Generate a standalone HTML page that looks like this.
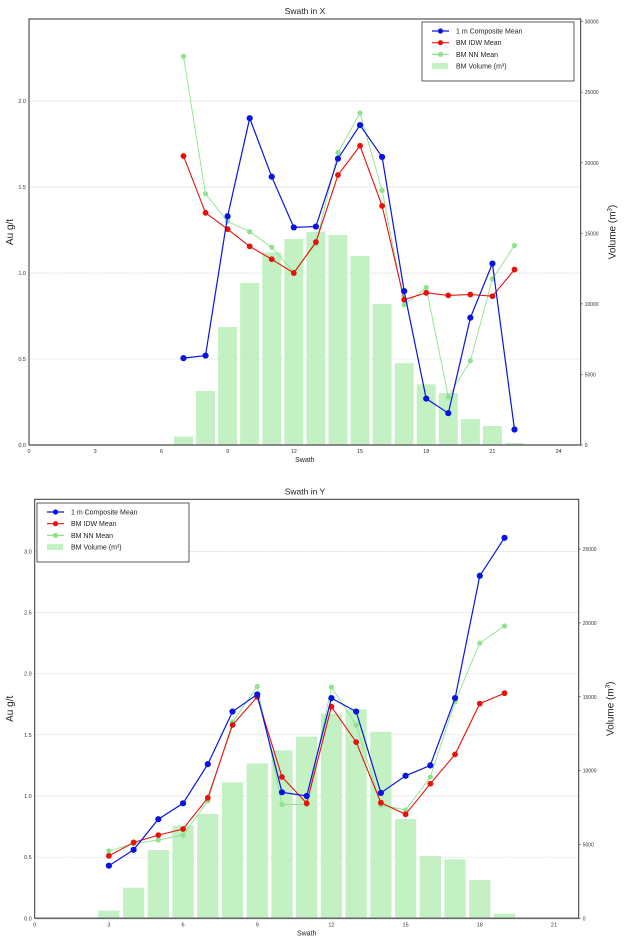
<!DOCTYPE html>
<html><head><meta charset="utf-8"><style>
html,body{margin:0;padding:0;background:#fff;}
svg{display:block;font-family:"Liberation Sans",sans-serif;}
</style></head><body>
<svg id="svg" width="626" height="942" viewBox="0 0 626 942"></svg>
<script>
// ---- Swath in X data ----
const xCats = [7,8,9,10,11,12,13,14,15,16,17,18,19,20,21,22];
const xVolume = [600,3830,8360,11480,13650,14600,15100,14880,13400,10000,5800,4300,3680,1840,1350,140];
const xComposite = [0.505,0.52,1.33,1.90,1.56,1.265,1.27,1.665,1.86,1.675,0.895,0.27,0.185,0.74,1.055,0.09];
const xIDW = [1.68,1.35,1.255,1.155,1.08,1.0,1.18,1.57,1.74,1.39,0.845,0.885,0.87,0.875,0.865,1.02];
const xNN = [2.26,1.46,1.30,1.24,1.15,1.005,1.17,1.70,1.93,1.48,0.815,0.915,0.28,0.49,0.965,1.16];
const xXTicks = [0,3,6,9,12,15,18,21,24];
const xLeftTicks = ["0.0","0.5","1.0","1.5","2.0"];
const xRightTicks = [0,5000,10000,15000,20000,25000,30000];
// ---- Swath in Y data ----
const yCats = [3,4,5,6,7,8,9,10,11,12,13,14,15,16,17,18,19];
const yVolume = [520,2070,4620,6270,7060,9200,10490,11370,12300,13850,14150,12630,6720,4220,3990,2590,310];
const yComposite = [0.43,0.56,0.81,0.94,1.26,1.69,1.83,1.03,1.0,1.80,1.69,1.025,1.165,1.25,1.80,2.80,3.11];
const yIDW = [0.51,0.62,0.68,0.73,0.985,1.58,1.81,1.155,0.94,1.73,1.44,0.945,0.85,1.10,1.34,1.755,1.84];
const yNN = [0.55,0.61,0.64,0.68,0.96,1.605,1.895,0.93,0.93,1.89,1.58,0.925,0.885,1.155,1.77,2.25,2.39];
const yXTicks = [0,3,6,9,12,15,18,21];
const yLeftTicks = ["0.0","0.5","1.0","1.5","2.0","2.5","3.0"];
const yRightTicks = [0,5000,10000,15000,20000,25000];

const NS="http://www.w3.org/2000/svg";
const svg=document.getElementById('svg');
function mk(tag,attrs,parent,text){const e=document.createElementNS(NS,tag);for(const k in attrs)e.setAttribute(k,attrs[k]);if(text!==undefined)e.textContent=text;(parent||svg).appendChild(e);return e;}

function chart(o){
  const g=mk('g',{});
  
  
  const sx=v=>o.L+(v-0)/(o.xmax)*(o.R-o.L);
  const sy=v=>o.B-v/o.ymax*(o.B-o.T);
  const sy2=v=>o.B-v/o.y2max*(o.B-o.T);
  // gridlines
  o.leftTicks.forEach(t=>{const v=parseFloat(t);
    if(v>0){const l=mk('line',{x1:o.L,x2:o.R,y1:sy(v),y2:sy(v),stroke:'#c8c8c8','stroke-width':0.6,'stroke-dasharray':'1.5 1'},g);
    
    }
  });
  // bars
  o.cats.forEach((c,i)=>{const w=(sx(1)-sx(0))*0.86;
    const r=mk('rect',{x:sx(c)-w/2,y:sy2(o.vol[i]),width:w,height:o.B-sy2(o.vol[i]),fill:'#c3f1c3'},g);
    
    });
  // series
  const series=[[o.nn,'#8de48d',0.9,2.6,'bm-nn-mean'],[o.idw,'#e8120c',1.1,2.9,'bm-idw-mean'],[o.comp,'#0a14e0',1.2,3.1,'composite-mean']];
  series.forEach(s=>{
    const pts=o.cats.map((c,i)=>sx(c).toFixed(1)+','+sy(s[0][i]).toFixed(1)).join(' ');
    const pl=mk('polyline',{points:pts,fill:'none',stroke:s[1],'stroke-width':s[2]},g);
    
    
    o.cats.forEach((c,i)=>{const p=mk('circle',{cx:sx(c),cy:sy(s[0][i]),r:s[3],fill:s[1]},g);
      
      });
  });
  // frame
  const f=mk('rect',{x:o.L,y:o.T,width:o.R-o.L,height:o.B-o.T,fill:'none',stroke:'#333','stroke-width':1},g);
  
  
  mk('line',{x1:o.L,x2:o.R,y1:o.B,y2:o.B,stroke:'#666','stroke-width':1.6},g);
  // ticks
  o.xTicks.forEach(t=>{const tx=mk('text',{x:sx(t),y:o.B+8,'font-size':5.5,'text-anchor':'middle',fill:'#333'},g,String(t));
    
    });
  o.leftTicks.forEach(t=>{const tx=mk('text',{x:o.L-3,y:sy(parseFloat(t))+2,'font-size':5.5,'text-anchor':'end',fill:'#333'},g,t);
    
    });
  o.rightTicks.forEach(t=>{mk('line',{x1:o.R,x2:o.R+2,y1:sy2(t),y2:sy2(t),stroke:'#333','stroke-width':0.6},g);
    const tx=mk('text',{x:o.R+4,y:sy2(t)+2,'font-size':5,'text-anchor':'start',fill:'#333'},g,String(t));
    
    });
  // titles
  const ti=mk('text',{x:o.titleX,y:o.T-5,'font-size':8.5,'text-anchor':'middle',fill:'#222'},g,o.title);
  
  
  const xl=mk('text',{x:(o.L+o.R)/2,y:o.B+17,'font-size':7,'text-anchor':'middle',fill:'#222'},g,'Swath');
  
  
  const yl=mk('text',{x:0,y:0,'font-size':10,'text-anchor':'middle',fill:'#222',transform:`translate(13,${(o.T+o.B)/2}) rotate(-90)`},g,'Au g/t');
  
  
  const yr=mk('text',{x:0,y:0,'font-size':10,'text-anchor':'middle',fill:'#222',transform:`translate(${o.R+35},${(o.T+o.B)/2}) rotate(-90)`},g);
  
  
  yr.innerHTML='Volume (m<tspan dy="-4" font-size="6">3</tspan><tspan dy="4">)</tspan>';
  // legend
  const lg=mk('g',{},g);
  
  
  mk('rect',{x:o.lx,y:o.ly,width:152,height:59,fill:'#fff',stroke:'#333','stroke-width':0.8},lg);
  const items=[['1 m Composite Mean','#0a14e0','line'],['BM IDW Mean','#e8120c','line'],['BM NN Mean','#8de48d','line'],['BM Volume (m³)','#c3f1c3','bar']];
  items.forEach((it,i)=>{const yy=o.ly+9+i*11.7;
    if(it[2]==='line'){mk('line',{x1:o.lx+10,x2:o.lx+27,y1:yy,y2:yy,stroke:it[1],'stroke-width':1.2},lg);mk('circle',{cx:o.lx+18.5,cy:yy,r:2.6,fill:it[1]},lg);}
    else mk('rect',{x:o.lx+10,y:yy-3,width:16,height:6,fill:it[1]},lg);
    const t=mk('text',{x:o.lx+34,y:yy+2.5,'font-size':7,fill:'#222'},lg,it[0]);
    
    });
}

chart({name:'swath-in-x-chart',title:'Swath in X',titleX:305,L:29,R:580.7,T:19,B:445,xmax:25,ymax:2.477,y2max:30190,
  cats:xCats,vol:xVolume,comp:xComposite,idw:xIDW,nn:xNN,xTicks:xXTicks,leftTicks:xLeftTicks,rightTicks:xRightTicks,lx:422,ly:22});
chart({name:'swath-in-y-chart',title:'Swath in Y',titleX:305,L:34.7,R:578.7,T:499.3,B:918.3,xmax:22,ymax:3.425,y2max:28370,
  cats:yCats,vol:yVolume,comp:yComposite,idw:yIDW,nn:yNN,xTicks:yXTicks,leftTicks:yLeftTicks,rightTicks:yRightTicks,lx:37,ly:503});
</script>
</body></html>
